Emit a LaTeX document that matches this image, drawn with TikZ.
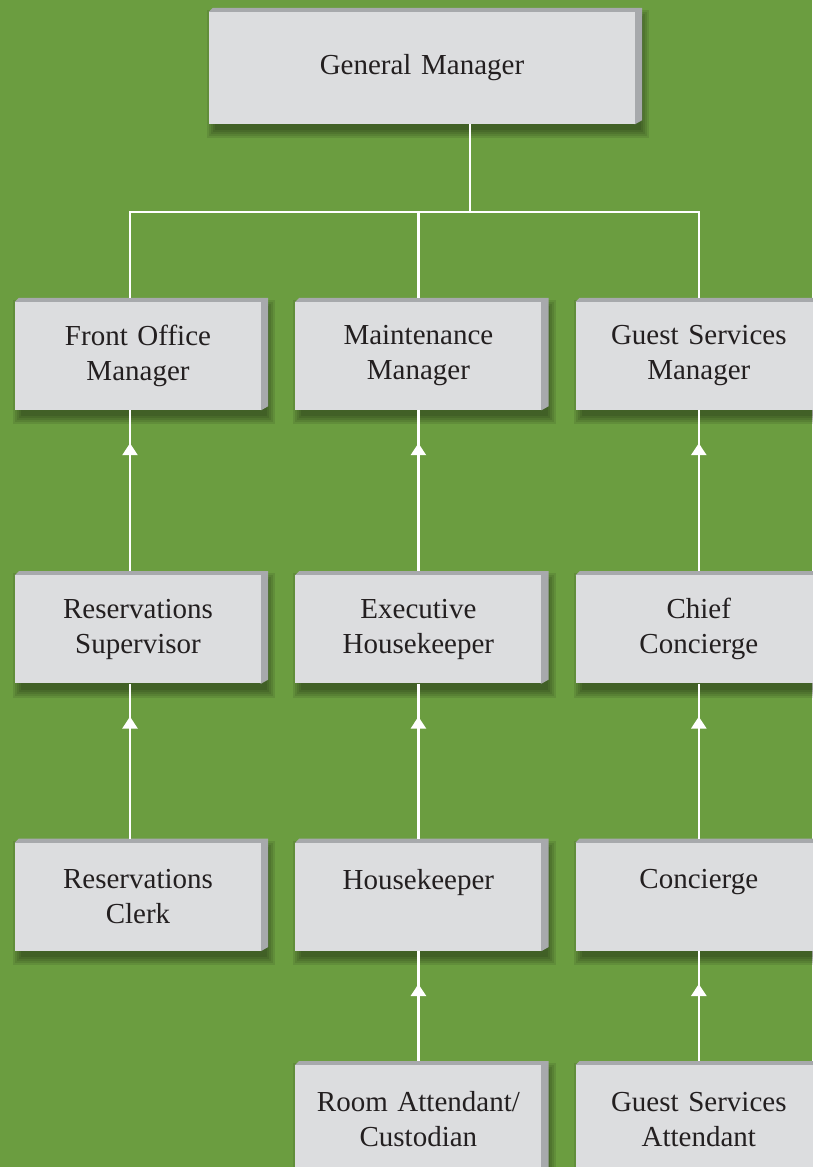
\documentclass[tikz,border=0pt]{standalone}
\usepackage{fontspec}
\setmainfont{Liberation Serif}
\usetikzlibrary{positioning,arrows.meta,backgrounds}

\definecolor{leafgreen}{RGB}{107,157,64}
\definecolor{facegray}{RGB}{220,221,223}
\definecolor{bevelgray}{RGB}{167,169,172}
\definecolor{inkgray}{RGB}{35,31,32}

\begin{document}
\begin{tikzpicture}[x=1pt,y=-1pt,
      post/.style={rectangle,fill=facegray,text=inkgray,inner sep=0pt,
        minimum width=246pt,minimum height=108pt,text width=240pt,
        align=center,font=\fontsize{29}{35}\selectfont},
      link/.style={draw=white,line width=2.6pt},
      up/.style={link,-{Triangle[length=12pt,width=15pt]}}]

      \useasboundingbox (0,0) rectangle (812,1167);

      % top
      \node[post,minimum width=426pt,minimum height=112pt,text width=400pt]
        (gm) at (422,68) {General Manager};

      % managers
      \node[post] (fom) at (138,356) {Front Office\\Manager};
      \node[post,right=34pt of fom] (mm) {Maintenance\\Manager};
      \node[post,right=34pt of mm] (gsm) {Guest Services\\Manager};

      % supervisors
      \node[post,below=165pt of fom] (rs) {Reservations\\Supervisor};
      \node[post,below=165pt of mm] (eh) {Executive\\Housekeeper};
      \node[post,below=165pt of gsm] (cc) {Chief\\Concierge};

      % staff
      \node[post,below=159pt of rs] (rc) {Reservations\\Clerk};
      \node[post,below=159pt of eh] (hk) {Housekeeper\\\mbox{}};
      \node[post,below=159pt of cc] (con) {Concierge\\\mbox{}};

      \node[post,below=114pt of hk] (ra) {Room Attendant/\\Custodian};
      \node[post,below=114pt of con] (gsa) {Guest Services\\Attendant};

      \begin{scope}[on background layer]
        \fill[leafgreen] (0,0) rectangle (812,1167);
        \foreach \n in {gm,fom,mm,gsm,rs,eh,cc,rc,hk,con,ra,gsa} {
          \foreach \e in {0,2,...,8}
            \fill[black,opacity=.09]
              ([xshift={(6-\e)*1pt},yshift={(-6+\e)*1pt}]\n.north west)
              rectangle ([xshift={(6+\e)*1pt},yshift={(-6-\e)*1pt}]\n.south east);
          \fill[bevelgray] (\n.north west) -- ([shift={(4pt,4pt)}]\n.north west)
            -- ([shift={(7pt,4pt)}]\n.north east) -- ([shift={(7pt,4pt)}]\n.south east)
            -- (\n.south east) -- cycle;
        }
      \end{scope}

      % lines to the general manager
      \coordinate (split) at (470,212);
      \draw[link] (gm.south -| split) -- (split);
      \draw[link] ([shift={(-8pt,4pt)}]fom.north) |- (split -| gsm.north)
        -- ([yshift=4pt]gsm.north);
      \draw[link] ([yshift=4pt]mm.north) -- (mm.north |- split);

      % reporting lines
      \foreach \lo/\hi/\dx in {rs/fom/-8,rc/rs/-8,eh/mm/0,hk/eh/0,ra/hk/0,
                               cc/gsm/0,con/cc/0,gsa/con/0} {
        \draw[link] ([shift={(\dx pt,4pt)}]\lo.north) -- ([xshift=\dx pt]\hi.south);
        \draw[up] ([shift={(\dx pt,4pt)}]\lo.north) -- ([shift={(\dx pt,-33pt)}]\hi.south);
      }
    \end{tikzpicture}
\end{document}
